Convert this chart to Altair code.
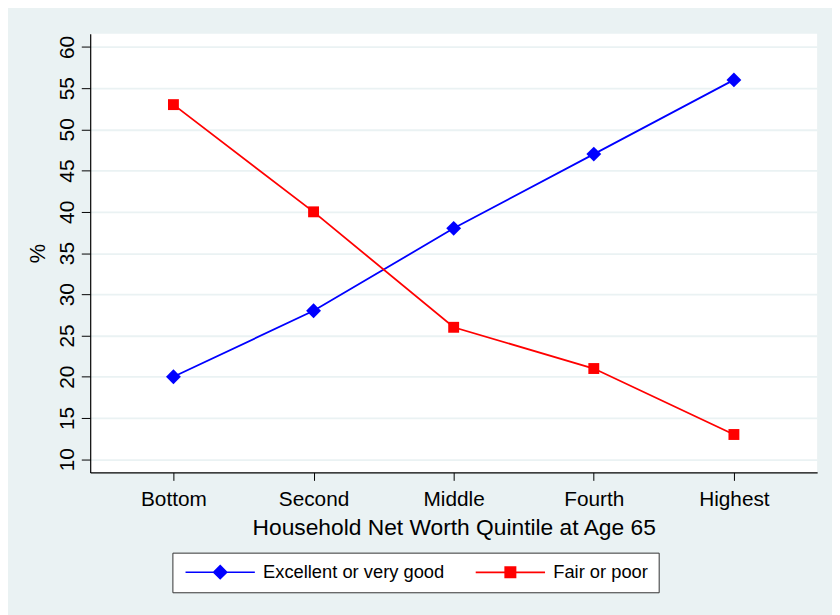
import altair as alt
import pandas as pd

quintiles = ["Bottom", "Second", "Middle", "Fourth", "Highest"]
excellent = [20, 28, 38, 47, 56]
fair = [53, 40, 26, 21, 13]
series_names = ["Excellent or very good", "Fair or poor"]
series_colors = ["#0000FF", "#FF0000"]
series_shapes = ["diamond", "square"]
series_sizes = [225, 121]
y_ticks = [10, 15, 20, 25, 30, 35, 40, 45, 50, 55, 60]

rows = []
for name, vals in zip(series_names, [excellent, fair]):
    for q, v in zip(quintiles, vals):
        rows.append({"quintile": q, "series": name, "value": v})
df = pd.DataFrame(rows)

FONT = "Liberation Sans"
BG = "#EAF2F3"

# legend symbols: line with marker in the middle (units of 6px, symbolSize 144)
diamond_legend = "M-1,0H10.667M4.833,-1.1L5.933,0L4.833,1.1L3.733,0Z"
square_legend = "M-1,0H10.667M3.958,-0.875H5.708V0.875H3.958Z"

x = alt.X(
    "quintile:N",
    sort=quintiles,
    scale=alt.Scale(type="point", padding=0.594, domain=quintiles),
    axis=alt.Axis(
        title="Household Net Worth Quintile at Age 65",
        labelAngle=0,
        tickSize=8,
        labelPadding=8,
        grid=False,
        labelFontSize=21,
        titleFontSize=23,
        titlePadding=8,
    ),
)
y = alt.Y(
    "value:Q",
    scale=alt.Scale(domain=[8.4, 61.6], nice=False, zero=False),
    axis=alt.Axis(
        values=y_ticks,
        title="%",
        labelAngle=270,
        labelAlign="center",
        labelBaseline="alphabetic",
        labelPadding=8,
        tickSize=9,
        grid=True,
        gridColor=BG,
        gridWidth=1.8,
        labelFontSize=21,
        titleFontSize=22,
        titlePadding=7,
        labelFlush=False,
        labelOverlap=False,
    ),
)

legend = alt.Legend(
    title=None,
    orient="none",
    legendX=83,
    legendY=524,
    direction="horizontal",
    fillColor="white",
    strokeColor="#333333",
    padding=10,
    labelFontSize=18.5,
    labelFont=FONT,
    labelColor="black",
    labelLimit=0,
    labelOffset=63,
    columnPadding=28,
    symbolSize=144,
    symbolStrokeWidth=1.6,
    symbolOpacity=1,
)

series_layers = []
for name, col, shp, sz in zip(series_names, series_colors, series_shapes, series_sizes):
    base = alt.Chart(df).transform_filter(alt.datum.series == name)
    series_layers.append(base.mark_line(strokeWidth=1.8, color=col).encode(x=x, y=y))
    series_layers.append(
        base.mark_point(filled=True, opacity=1, shape=shp, size=sz, color=col, strokeWidth=0).encode(x=x, y=y)
    )

legend_layer = (
    alt.Chart(df)
    .transform_filter("false")
    .mark_point(filled=True, opacity=1, size=144, strokeWidth=1.6)
    .encode(
        x=x,
        y=y,
        fill=alt.Fill("series:N", scale=alt.Scale(domain=series_names, range=series_colors), legend=legend),
        stroke=alt.Stroke("series:N", scale=alt.Scale(domain=series_names, range=series_colors), legend=legend),
        shape=alt.Shape(
            "series:N",
            scale=alt.Scale(domain=series_names, range=[diamond_legend, square_legend]),
            legend=legend,
        ),
    )
)

chart = (
    alt.layer(*series_layers, legend_layer)
    .properties(
        width=734,
        height=443,
        autosize=alt.AutoSizeParams(type="none"),
        padding={"left": 83, "top": 23, "right": 15, "bottom": 141},
        background=BG,
    )
    .configure_view(stroke=None, fill="white")
    .configure_axis(
        labelFont=FONT,
        titleFont=FONT,
        labelColor="black",
        titleColor="black",
        titleFontWeight="normal",
        domainColor="black",
        tickColor="black",
        domainWidth=1.2,
        tickWidth=1,
    )
)

chart.save("out.html", embed_options={"renderer": "svg", "actions": False})
